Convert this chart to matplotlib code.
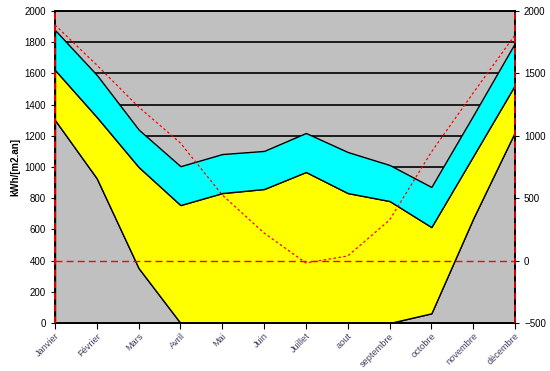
import matplotlib
matplotlib.use("Agg")
import matplotlib.pyplot as plt
import numpy as np

plt.rcParams['font.family'] = ['Liberation Sans', 'DejaVu Sans']

months = ["Janvier", "Février", "Mars", "Avril", "Mai", "Juin", "Juillet",
          "aout", "septembre", "octobre", "novembre", "décembre"]
# stacked series (left axis, kWh/[m2.an])
base = [1301, 927, 352, 0, 0, 0, 0, 0, 0, 62, 670, 1225]
yellow_part = [321, 393, 648, 756, 833, 859, 968, 833, 782, 553, 400, 301]
cyan_part = [256, 270, 240, 249, 250, 244, 250, 263, 231, 257, 260, 269]
# red dashed curve (right axis)
red_curve = [1888, 1567, 1231, 942, 526, 221, -19, 37, 325, 870, 1343, 1808]

left_ticks = list(range(0, 2001, 200))
right_ticks = list(range(-500, 2001, 500))

fig = plt.figure(figsize=(5.5, 3.71), dpi=100)
ax = fig.add_axes([55/550, 48/371, 460/550, 312/371])
ax.set_facecolor('#C0C0C0')
x = np.arange(len(months))

for t in left_ticks[1:]:
    ax.axhline(t, color='black', lw=1.2, zorder=0.5)

ax.stackplot(x, base, yellow_part, cyan_part,
             colors=['#C0C0C0', '#FFFF00', '#00FFFF'],
             edgecolor='black', linewidth=1.0, zorder=1)

ax.set_xlim(0, len(months) - 1)
ax.set_ylim(0, 2000)
ax.set_yticks(left_ticks)
ax.set_xticks(x)
ax.set_xticklabels(months, rotation=45, ha='right', va='top',
                   rotation_mode='anchor', fontsize=6.6, color='#404060')
ax.tick_params(axis='y', labelsize=7, length=3, direction='out')
ax.tick_params(axis='x', length=4, direction='out', pad=2)
ax.set_ylabel('kWh/[m2.an]', fontsize=7, fontweight='bold')
ax.yaxis.set_label_coords(-0.075, 0.5)
for s in ax.spines.values():
    s.set_linewidth(1.2)

ax2 = ax.twinx()
ax2.set_ylim(-500, 2000)
ax2.set_yticks(right_ticks)
ax2.tick_params(axis='y', labelsize=7, length=3, direction='out')
ax2.plot(x, red_curve, color='red', lw=0.9, ls=(0, (2, 2)), zorder=3)
ax2.axhline(0, color='red', lw=1.0, ls=(0, (5, 3)), zorder=3)
ax2.axvline(0, color='red', lw=1.2, ls=(0, (4, 3)), zorder=3, clip_on=False)
ax2.axvline(len(months) - 1, color='red', lw=1.2, ls=(0, (4, 3)), zorder=3,
            clip_on=False)
ax2.set_xlim(0, len(months) - 1)
for s in ax2.spines.values():
    s.set_linewidth(1.2)

fig.savefig('out.png', dpi=100, facecolor='white')
